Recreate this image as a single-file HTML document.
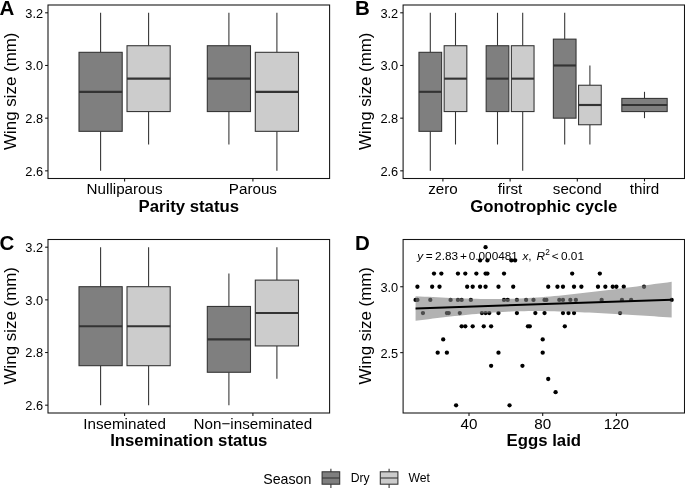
<!DOCTYPE html>
<html><head><meta charset="utf-8"><title>Wing size figure</title>
<style>
html,body{margin:0;padding:0;background:#fff;}
body{width:685px;height:488px;overflow:hidden;}
svg{filter:grayscale(1);display:block;font-family:"Liberation Sans",sans-serif;fill:#000;}
</style></head><body>
<svg width="685" height="488" viewBox="0 0 685 488">
<rect width="685" height="488" fill="#fff"/>
<line x1="100.60" y1="12.80" x2="100.60" y2="52.31" stroke="#333333" stroke-width="1.07"/>
<line x1="100.60" y1="131.33" x2="100.60" y2="170.84" stroke="#333333" stroke-width="1.07"/>
<rect x="79.00" y="52.31" width="43.20" height="79.02" fill="#7f7f7f" stroke="#333333" stroke-width="1.07"/>
<line x1="79.00" y1="91.82" x2="122.20" y2="91.82" stroke="#333333" stroke-width="2.13"/>
<line x1="148.60" y1="12.80" x2="148.60" y2="45.72" stroke="#333333" stroke-width="1.07"/>
<line x1="148.60" y1="111.57" x2="148.60" y2="144.50" stroke="#333333" stroke-width="1.07"/>
<rect x="127.00" y="45.72" width="43.20" height="65.85" fill="#cccccc" stroke="#333333" stroke-width="1.07"/>
<line x1="127.00" y1="78.65" x2="170.20" y2="78.65" stroke="#333333" stroke-width="2.13"/>
<line x1="228.90" y1="12.80" x2="228.90" y2="45.72" stroke="#333333" stroke-width="1.07"/>
<line x1="228.90" y1="111.57" x2="228.90" y2="144.50" stroke="#333333" stroke-width="1.07"/>
<rect x="207.30" y="45.72" width="43.20" height="65.85" fill="#7f7f7f" stroke="#333333" stroke-width="1.07"/>
<line x1="207.30" y1="78.65" x2="250.50" y2="78.65" stroke="#333333" stroke-width="2.13"/>
<line x1="276.90" y1="12.80" x2="276.90" y2="52.31" stroke="#333333" stroke-width="1.07"/>
<line x1="276.90" y1="131.33" x2="276.90" y2="170.84" stroke="#333333" stroke-width="1.07"/>
<rect x="255.30" y="52.31" width="43.20" height="79.02" fill="#cccccc" stroke="#333333" stroke-width="1.07"/>
<line x1="255.30" y1="91.82" x2="298.50" y2="91.82" stroke="#333333" stroke-width="2.13"/>
<rect x="48.00" y="5.00" width="281.60" height="173.50" fill="none" stroke="#141414" stroke-width="1.07"/>
<line x1="45.10" y1="170.84" x2="48.00" y2="170.84" stroke="#141414" stroke-width="1.07"/>
<text x="43.10" y="175.74" text-anchor="end" font-size="12.8">2.6</text>
<line x1="45.10" y1="118.16" x2="48.00" y2="118.16" stroke="#141414" stroke-width="1.07"/>
<text x="43.10" y="123.06" text-anchor="end" font-size="12.8">2.8</text>
<line x1="45.10" y1="65.48" x2="48.00" y2="65.48" stroke="#141414" stroke-width="1.07"/>
<text x="43.10" y="70.38" text-anchor="end" font-size="12.8">3.0</text>
<line x1="45.10" y1="12.80" x2="48.00" y2="12.80" stroke="#141414" stroke-width="1.07"/>
<text x="43.10" y="17.70" text-anchor="end" font-size="12.8">3.2</text>
<line x1="124.60" y1="178.50" x2="124.60" y2="181.40" stroke="#141414" stroke-width="1.07"/>
<text x="124.60" y="194.40" text-anchor="middle" font-size="15.2">Nulliparous</text>
<line x1="252.90" y1="178.50" x2="252.90" y2="181.40" stroke="#141414" stroke-width="1.07"/>
<text x="252.90" y="194.40" text-anchor="middle" font-size="15.2">Parous</text>
<text transform="translate(15.80,91.25) rotate(-90)" text-anchor="middle" font-size="16.9">Wing size (mm)</text>
<text x="188.80" y="211.80" text-anchor="middle" font-size="16.75" font-weight="bold">Parity status</text>
<text x="-0.40" y="15.20" font-size="20.5" font-weight="bold">A</text>
<line x1="430.30" y1="12.80" x2="430.30" y2="52.31" stroke="#333333" stroke-width="1.07"/>
<line x1="430.30" y1="131.33" x2="430.30" y2="170.84" stroke="#333333" stroke-width="1.07"/>
<rect x="418.96" y="52.31" width="22.68" height="79.02" fill="#7f7f7f" stroke="#333333" stroke-width="1.07"/>
<line x1="418.96" y1="91.82" x2="441.64" y2="91.82" stroke="#333333" stroke-width="2.13"/>
<line x1="455.50" y1="12.80" x2="455.50" y2="45.72" stroke="#333333" stroke-width="1.07"/>
<line x1="455.50" y1="111.57" x2="455.50" y2="144.50" stroke="#333333" stroke-width="1.07"/>
<rect x="444.16" y="45.72" width="22.68" height="65.85" fill="#cccccc" stroke="#333333" stroke-width="1.07"/>
<line x1="444.16" y1="78.65" x2="466.84" y2="78.65" stroke="#333333" stroke-width="2.13"/>
<line x1="497.50" y1="12.80" x2="497.50" y2="45.72" stroke="#333333" stroke-width="1.07"/>
<line x1="497.50" y1="111.57" x2="497.50" y2="144.50" stroke="#333333" stroke-width="1.07"/>
<rect x="486.16" y="45.72" width="22.68" height="65.85" fill="#7f7f7f" stroke="#333333" stroke-width="1.07"/>
<line x1="486.16" y1="78.65" x2="508.84" y2="78.65" stroke="#333333" stroke-width="2.13"/>
<line x1="522.70" y1="12.80" x2="522.70" y2="45.72" stroke="#333333" stroke-width="1.07"/>
<line x1="522.70" y1="111.57" x2="522.70" y2="170.84" stroke="#333333" stroke-width="1.07"/>
<rect x="511.36" y="45.72" width="22.68" height="65.85" fill="#cccccc" stroke="#333333" stroke-width="1.07"/>
<line x1="511.36" y1="78.65" x2="534.04" y2="78.65" stroke="#333333" stroke-width="2.13"/>
<line x1="564.70" y1="12.80" x2="564.70" y2="39.14" stroke="#333333" stroke-width="1.07"/>
<line x1="564.70" y1="118.16" x2="564.70" y2="144.50" stroke="#333333" stroke-width="1.07"/>
<rect x="553.36" y="39.14" width="22.68" height="79.02" fill="#7f7f7f" stroke="#333333" stroke-width="1.07"/>
<line x1="553.36" y1="65.48" x2="576.04" y2="65.48" stroke="#333333" stroke-width="2.13"/>
<line x1="589.90" y1="65.48" x2="589.90" y2="85.24" stroke="#333333" stroke-width="1.07"/>
<line x1="589.90" y1="124.75" x2="589.90" y2="144.50" stroke="#333333" stroke-width="1.07"/>
<rect x="578.56" y="85.24" width="22.68" height="39.51" fill="#cccccc" stroke="#333333" stroke-width="1.07"/>
<line x1="578.56" y1="104.99" x2="601.24" y2="104.99" stroke="#333333" stroke-width="2.13"/>
<line x1="644.50" y1="91.82" x2="644.50" y2="98.41" stroke="#333333" stroke-width="1.07"/>
<line x1="644.50" y1="111.57" x2="644.50" y2="118.16" stroke="#333333" stroke-width="1.07"/>
<rect x="621.82" y="98.41" width="45.36" height="13.17" fill="#7f7f7f" stroke="#333333" stroke-width="1.07"/>
<line x1="621.82" y1="104.99" x2="667.18" y2="104.99" stroke="#333333" stroke-width="2.13"/>
<rect x="403.10" y="5.00" width="281.40" height="173.50" fill="none" stroke="#141414" stroke-width="1.07"/>
<line x1="400.20" y1="170.84" x2="403.10" y2="170.84" stroke="#141414" stroke-width="1.07"/>
<text x="398.20" y="175.74" text-anchor="end" font-size="12.8">2.6</text>
<line x1="400.20" y1="118.16" x2="403.10" y2="118.16" stroke="#141414" stroke-width="1.07"/>
<text x="398.20" y="123.06" text-anchor="end" font-size="12.8">2.8</text>
<line x1="400.20" y1="65.48" x2="403.10" y2="65.48" stroke="#141414" stroke-width="1.07"/>
<text x="398.20" y="70.38" text-anchor="end" font-size="12.8">3.0</text>
<line x1="400.20" y1="12.80" x2="403.10" y2="12.80" stroke="#141414" stroke-width="1.07"/>
<text x="398.20" y="17.70" text-anchor="end" font-size="12.8">3.2</text>
<line x1="442.90" y1="178.50" x2="442.90" y2="181.40" stroke="#141414" stroke-width="1.07"/>
<text x="442.90" y="194.40" text-anchor="middle" font-size="15.2">zero</text>
<line x1="510.10" y1="178.50" x2="510.10" y2="181.40" stroke="#141414" stroke-width="1.07"/>
<text x="510.10" y="194.40" text-anchor="middle" font-size="15.2">first</text>
<line x1="577.30" y1="178.50" x2="577.30" y2="181.40" stroke="#141414" stroke-width="1.07"/>
<text x="577.30" y="194.40" text-anchor="middle" font-size="15.2">second</text>
<line x1="644.50" y1="178.50" x2="644.50" y2="181.40" stroke="#141414" stroke-width="1.07"/>
<text x="644.50" y="194.40" text-anchor="middle" font-size="15.2">third</text>
<text transform="translate(371.00,91.25) rotate(-90)" text-anchor="middle" font-size="16.9">Wing size (mm)</text>
<text x="543.80" y="211.80" text-anchor="middle" font-size="16.75" font-weight="bold">Gonotrophic cycle</text>
<text x="355.00" y="15.20" font-size="20.5" font-weight="bold">B</text>
<line x1="100.60" y1="247.20" x2="100.60" y2="286.70" stroke="#333333" stroke-width="1.07"/>
<line x1="100.60" y1="365.69" x2="100.60" y2="405.18" stroke="#333333" stroke-width="1.07"/>
<rect x="79.00" y="286.70" width="43.20" height="78.99" fill="#7f7f7f" stroke="#333333" stroke-width="1.07"/>
<line x1="79.00" y1="326.19" x2="122.20" y2="326.19" stroke="#333333" stroke-width="2.13"/>
<line x1="148.60" y1="247.20" x2="148.60" y2="286.70" stroke="#333333" stroke-width="1.07"/>
<line x1="148.60" y1="365.69" x2="148.60" y2="405.18" stroke="#333333" stroke-width="1.07"/>
<rect x="127.00" y="286.70" width="43.20" height="78.99" fill="#cccccc" stroke="#333333" stroke-width="1.07"/>
<line x1="127.00" y1="326.19" x2="170.20" y2="326.19" stroke="#333333" stroke-width="2.13"/>
<line x1="228.90" y1="273.53" x2="228.90" y2="306.44" stroke="#333333" stroke-width="1.07"/>
<line x1="228.90" y1="372.27" x2="228.90" y2="405.18" stroke="#333333" stroke-width="1.07"/>
<rect x="207.30" y="306.44" width="43.20" height="65.83" fill="#7f7f7f" stroke="#333333" stroke-width="1.07"/>
<line x1="207.30" y1="339.36" x2="250.50" y2="339.36" stroke="#333333" stroke-width="2.13"/>
<line x1="276.90" y1="247.20" x2="276.90" y2="280.11" stroke="#333333" stroke-width="1.07"/>
<line x1="276.90" y1="345.94" x2="276.90" y2="378.85" stroke="#333333" stroke-width="1.07"/>
<rect x="255.30" y="280.11" width="43.20" height="65.82" fill="#cccccc" stroke="#333333" stroke-width="1.07"/>
<line x1="255.30" y1="313.02" x2="298.50" y2="313.02" stroke="#333333" stroke-width="2.13"/>
<rect x="48.00" y="239.50" width="281.60" height="173.50" fill="none" stroke="#141414" stroke-width="1.07"/>
<line x1="45.10" y1="405.18" x2="48.00" y2="405.18" stroke="#141414" stroke-width="1.07"/>
<text x="43.10" y="410.08" text-anchor="end" font-size="12.8">2.6</text>
<line x1="45.10" y1="352.52" x2="48.00" y2="352.52" stroke="#141414" stroke-width="1.07"/>
<text x="43.10" y="357.42" text-anchor="end" font-size="12.8">2.8</text>
<line x1="45.10" y1="299.86" x2="48.00" y2="299.86" stroke="#141414" stroke-width="1.07"/>
<text x="43.10" y="304.76" text-anchor="end" font-size="12.8">3.0</text>
<line x1="45.10" y1="247.20" x2="48.00" y2="247.20" stroke="#141414" stroke-width="1.07"/>
<text x="43.10" y="252.10" text-anchor="end" font-size="12.8">3.2</text>
<line x1="124.60" y1="413.00" x2="124.60" y2="415.90" stroke="#141414" stroke-width="1.07"/>
<text x="124.60" y="428.90" text-anchor="middle" font-size="15.2">Inseminated</text>
<line x1="252.90" y1="413.00" x2="252.90" y2="415.90" stroke="#141414" stroke-width="1.07"/>
<text x="252.90" y="428.90" text-anchor="middle" font-size="15.2">Non−inseminated</text>
<text transform="translate(15.80,325.75) rotate(-90)" text-anchor="middle" font-size="16.9">Wing size (mm)</text>
<text x="188.80" y="445.90" text-anchor="middle" font-size="16.75" font-weight="bold">Insemination status</text>
<text x="-0.40" y="250.40" font-size="20.5" font-weight="bold">C</text>
<circle cx="485.58" cy="247.20" r="2.15" fill="#000"/>
<circle cx="480.06" cy="260.38" r="2.15" fill="#000"/>
<circle cx="487.43" cy="260.38" r="2.15" fill="#000"/>
<circle cx="511.38" cy="260.38" r="2.15" fill="#000"/>
<circle cx="515.06" cy="260.38" r="2.15" fill="#000"/>
<circle cx="433.99" cy="273.56" r="2.15" fill="#000"/>
<circle cx="441.36" cy="273.56" r="2.15" fill="#000"/>
<circle cx="457.94" cy="273.56" r="2.15" fill="#000"/>
<circle cx="465.31" cy="273.56" r="2.15" fill="#000"/>
<circle cx="476.37" cy="273.56" r="2.15" fill="#000"/>
<circle cx="485.58" cy="273.56" r="2.15" fill="#000"/>
<circle cx="487.43" cy="273.56" r="2.15" fill="#000"/>
<circle cx="504.01" cy="273.56" r="2.15" fill="#000"/>
<circle cx="572.18" cy="273.56" r="2.15" fill="#000"/>
<circle cx="599.82" cy="273.56" r="2.15" fill="#000"/>
<circle cx="417.41" cy="286.74" r="2.15" fill="#000"/>
<circle cx="432.15" cy="286.74" r="2.15" fill="#000"/>
<circle cx="439.52" cy="286.74" r="2.15" fill="#000"/>
<circle cx="467.16" cy="286.74" r="2.15" fill="#000"/>
<circle cx="472.69" cy="286.74" r="2.15" fill="#000"/>
<circle cx="480.06" cy="286.74" r="2.15" fill="#000"/>
<circle cx="485.58" cy="286.74" r="2.15" fill="#000"/>
<circle cx="498.48" cy="286.74" r="2.15" fill="#000"/>
<circle cx="513.22" cy="286.74" r="2.15" fill="#000"/>
<circle cx="548.23" cy="286.74" r="2.15" fill="#000"/>
<circle cx="557.44" cy="286.74" r="2.15" fill="#000"/>
<circle cx="562.97" cy="286.74" r="2.15" fill="#000"/>
<circle cx="574.02" cy="286.74" r="2.15" fill="#000"/>
<circle cx="581.39" cy="286.74" r="2.15" fill="#000"/>
<circle cx="597.98" cy="286.74" r="2.15" fill="#000"/>
<circle cx="605.35" cy="286.74" r="2.15" fill="#000"/>
<circle cx="612.72" cy="286.74" r="2.15" fill="#000"/>
<circle cx="616.40" cy="286.74" r="2.15" fill="#000"/>
<circle cx="623.77" cy="286.74" r="2.15" fill="#000"/>
<circle cx="644.04" cy="286.74" r="2.15" fill="#000"/>
<circle cx="415.57" cy="299.92" r="2.15" fill="#000"/>
<circle cx="417.41" cy="299.92" r="2.15" fill="#000"/>
<circle cx="430.31" cy="299.92" r="2.15" fill="#000"/>
<circle cx="450.57" cy="299.92" r="2.15" fill="#000"/>
<circle cx="457.94" cy="299.92" r="2.15" fill="#000"/>
<circle cx="461.63" cy="299.92" r="2.15" fill="#000"/>
<circle cx="470.84" cy="299.92" r="2.15" fill="#000"/>
<circle cx="504.01" cy="299.92" r="2.15" fill="#000"/>
<circle cx="507.69" cy="299.92" r="2.15" fill="#000"/>
<circle cx="516.90" cy="299.92" r="2.15" fill="#000"/>
<circle cx="526.12" cy="299.92" r="2.15" fill="#000"/>
<circle cx="533.49" cy="299.92" r="2.15" fill="#000"/>
<circle cx="544.54" cy="299.92" r="2.15" fill="#000"/>
<circle cx="546.38" cy="299.92" r="2.15" fill="#000"/>
<circle cx="559.28" cy="299.92" r="2.15" fill="#000"/>
<circle cx="562.97" cy="299.92" r="2.15" fill="#000"/>
<circle cx="570.34" cy="299.92" r="2.15" fill="#000"/>
<circle cx="575.87" cy="299.92" r="2.15" fill="#000"/>
<circle cx="601.66" cy="299.92" r="2.15" fill="#000"/>
<circle cx="621.93" cy="299.92" r="2.15" fill="#000"/>
<circle cx="631.14" cy="299.92" r="2.15" fill="#000"/>
<circle cx="671.67" cy="299.92" r="2.15" fill="#000"/>
<circle cx="422.94" cy="313.10" r="2.15" fill="#000"/>
<circle cx="446.89" cy="313.10" r="2.15" fill="#000"/>
<circle cx="448.73" cy="313.10" r="2.15" fill="#000"/>
<circle cx="459.79" cy="313.10" r="2.15" fill="#000"/>
<circle cx="481.90" cy="313.10" r="2.15" fill="#000"/>
<circle cx="485.58" cy="313.10" r="2.15" fill="#000"/>
<circle cx="489.27" cy="313.10" r="2.15" fill="#000"/>
<circle cx="498.48" cy="313.10" r="2.15" fill="#000"/>
<circle cx="516.90" cy="313.10" r="2.15" fill="#000"/>
<circle cx="535.33" cy="313.10" r="2.15" fill="#000"/>
<circle cx="544.54" cy="313.10" r="2.15" fill="#000"/>
<circle cx="562.97" cy="313.10" r="2.15" fill="#000"/>
<circle cx="568.50" cy="313.10" r="2.15" fill="#000"/>
<circle cx="574.02" cy="313.10" r="2.15" fill="#000"/>
<circle cx="620.09" cy="313.10" r="2.15" fill="#000"/>
<circle cx="461.63" cy="326.28" r="2.15" fill="#000"/>
<circle cx="465.31" cy="326.28" r="2.15" fill="#000"/>
<circle cx="472.69" cy="326.28" r="2.15" fill="#000"/>
<circle cx="483.74" cy="326.28" r="2.15" fill="#000"/>
<circle cx="491.11" cy="326.28" r="2.15" fill="#000"/>
<circle cx="527.96" cy="326.28" r="2.15" fill="#000"/>
<circle cx="529.80" cy="326.28" r="2.15" fill="#000"/>
<circle cx="564.81" cy="326.28" r="2.15" fill="#000"/>
<circle cx="443.20" cy="339.46" r="2.15" fill="#000"/>
<circle cx="542.70" cy="339.46" r="2.15" fill="#000"/>
<circle cx="437.68" cy="352.64" r="2.15" fill="#000"/>
<circle cx="446.89" cy="352.64" r="2.15" fill="#000"/>
<circle cx="498.48" cy="352.64" r="2.15" fill="#000"/>
<circle cx="542.70" cy="352.64" r="2.15" fill="#000"/>
<circle cx="491.11" cy="365.82" r="2.15" fill="#000"/>
<circle cx="522.43" cy="365.82" r="2.15" fill="#000"/>
<circle cx="548.23" cy="379.00" r="2.15" fill="#000"/>
<circle cx="555.60" cy="392.18" r="2.15" fill="#000"/>
<circle cx="456.10" cy="405.36" r="2.15" fill="#000"/>
<circle cx="509.54" cy="405.36" r="2.15" fill="#000"/>
<polygon points="415.57,296.15 419.91,296.39 424.25,296.63 428.59,296.86 432.93,297.09 437.27,297.31 441.61,297.52 445.95,297.72 450.29,297.92 454.63,298.10 458.98,298.27 463.32,298.43 467.66,298.57 472.00,298.70 476.34,298.81 480.68,298.90 485.02,298.97 489.36,299.01 493.70,299.03 498.04,299.02 502.38,298.98 506.72,298.91 511.07,298.80 515.41,298.66 519.75,298.49 524.09,298.29 528.43,298.05 532.77,297.79 537.11,297.49 541.45,297.16 545.79,296.82 550.13,296.44 554.47,296.05 558.81,295.63 563.15,295.20 567.50,294.76 571.84,294.30 576.18,293.82 580.52,293.34 584.86,292.84 589.20,292.34 593.54,291.82 597.88,291.30 602.22,290.78 606.56,290.25 610.90,289.71 615.24,289.16 619.59,288.62 623.93,288.06 628.27,287.51 632.61,286.95 636.95,286.39 641.29,285.82 645.63,285.26 649.97,284.69 654.31,284.11 658.65,283.54 662.99,282.97 667.33,282.39 671.67,281.81 671.67,317.47 667.33,317.18 662.99,316.91 658.65,316.63 654.31,316.35 649.97,316.08 645.63,315.81 641.29,315.54 636.95,315.27 632.61,315.01 628.27,314.75 623.93,314.49 619.59,314.24 615.24,313.99 610.90,313.75 606.56,313.51 602.22,313.27 597.88,313.05 593.54,312.83 589.20,312.61 584.86,312.41 580.52,312.21 576.18,312.02 571.84,311.85 567.50,311.69 563.15,311.54 558.81,311.41 554.47,311.29 550.13,311.19 545.79,311.12 541.45,311.07 537.11,311.04 532.77,311.05 528.43,311.08 524.09,311.14 519.75,311.24 515.41,311.36 511.07,311.52 506.72,311.72 502.38,311.95 498.04,312.20 493.70,312.49 489.36,312.81 485.02,313.15 480.68,313.52 476.34,313.91 472.00,314.31 467.66,314.74 463.32,315.18 458.98,315.64 454.63,316.11 450.29,316.59 445.95,317.08 441.61,317.59 437.27,318.10 432.93,318.61 428.59,319.14 424.25,319.67 419.91,320.21 415.57,320.75" fill="#7f7f7f" fill-opacity="0.6"/>
<line x1="415.57" y1="308.45" x2="671.67" y2="299.64" stroke="#000" stroke-width="2"/>
<rect x="403.10" y="239.50" width="281.40" height="173.50" fill="none" stroke="#141414" stroke-width="1.07"/>
<line x1="400.20" y1="352.64" x2="403.10" y2="352.64" stroke="#141414" stroke-width="1.07"/>
<text x="398.20" y="357.54" text-anchor="end" font-size="12.8">2.5</text>
<line x1="400.20" y1="286.74" x2="403.10" y2="286.74" stroke="#141414" stroke-width="1.07"/>
<text x="398.20" y="291.64" text-anchor="end" font-size="12.8">3.0</text>
<line x1="469.00" y1="413.00" x2="469.00" y2="415.90" stroke="#141414" stroke-width="1.07"/>
<text x="469.00" y="428.90" text-anchor="middle" font-size="15.2">40</text>
<line x1="542.70" y1="413.00" x2="542.70" y2="415.90" stroke="#141414" stroke-width="1.07"/>
<text x="542.70" y="428.90" text-anchor="middle" font-size="15.2">80</text>
<line x1="616.40" y1="413.00" x2="616.40" y2="415.90" stroke="#141414" stroke-width="1.07"/>
<text x="616.40" y="428.90" text-anchor="middle" font-size="15.2">120</text>
<text transform="translate(371.00,325.75) rotate(-90)" text-anchor="middle" font-size="16.9">Wing size (mm)</text>
<text x="543.80" y="445.90" text-anchor="middle" font-size="16.75" font-weight="bold">Eggs laid</text>
<text x="355.00" y="250.40" font-size="20.5" font-weight="bold">D</text>
<text y="260.2" font-size="11.8"><tspan x="417.3" font-style="italic">y</tspan><tspan x="425.7">=</tspan><tspan x="435.1">2.83</tspan><tspan x="460.0">+</tspan><tspan x="468.7">0.000481</tspan><tspan x="522.4" font-style="italic">x</tspan>,<tspan x="536.4" font-style="italic">R</tspan><tspan x="545.2" font-size="8.3" dy="-5.4">2</tspan><tspan x="551.8" dy="5.4">&lt;</tspan><tspan x="561.0">0.01</tspan></text>
<text x="263.2" y="483.5" font-size="14.2">Season</text>
<line x1="330.9" y1="468.8" x2="330.9" y2="488" stroke="#333333" stroke-width="1.07"/>
<rect x="322.09999999999997" y="471.8" width="17.6" height="12.4" fill="#7f7f7f" stroke="#333333" stroke-width="1.07"/>
<line x1="322.09999999999997" y1="478" x2="339.7" y2="478" stroke="#333333" stroke-width="1.07"/>
<line x1="389.1" y1="468.8" x2="389.1" y2="488" stroke="#333333" stroke-width="1.07"/>
<rect x="380.3" y="471.8" width="17.6" height="12.4" fill="#cccccc" stroke="#333333" stroke-width="1.07"/>
<line x1="380.3" y1="478" x2="397.90000000000003" y2="478" stroke="#333333" stroke-width="1.07"/>
<text x="350.7" y="482.4" font-size="12.2">Dry</text>
<text x="408.5" y="482.4" font-size="12.2">Wet</text>
</svg>
</body></html>
